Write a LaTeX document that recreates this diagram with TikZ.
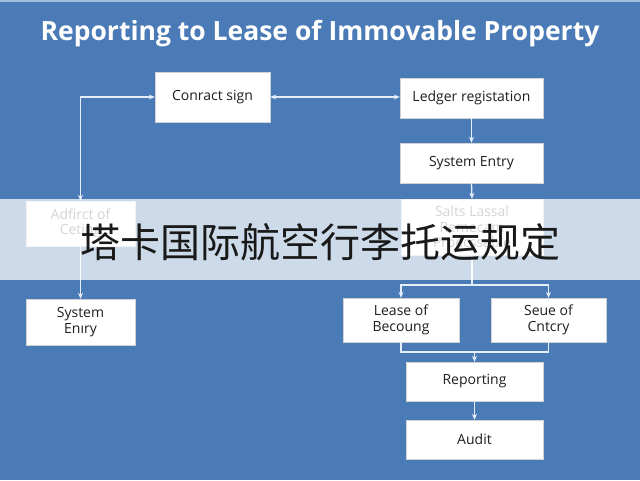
\documentclass[tikz,border=0pt]{standalone}
\usepackage{fontspec}
\setmainfont{Open Sans}
\newfontfamily\cjk{Noto Sans CJK SC}
\usetikzlibrary{arrows.meta,shadows}
\definecolor{bg}{HTML}{4A7BB7}
\definecolor{ln}{HTML}{E4EEF8}
\definecolor{bx}{HTML}{1E1E1E}
\tikzset{
  flowbox/.style={draw=gray!35, fill=white, text=bx, align=center, inner sep=1pt,
    font=\fontsize{14}{15.5}\selectfont,
    drop shadow={opacity=0.35, shadow xshift=1.2pt, shadow yshift=-1.2pt}},
  conn/.style={draw=ln, line width=1.3pt, -{Stealth[length=6pt,width=5pt]}},
  plain/.style={draw=ln, line width=1.3pt}
}
\begin{document}
\begin{tikzpicture}[x=1pt,y=-1pt]
\fill[bg] (0,0) rectangle (640,480);
\useasboundingbox (0,0) rectangle (640,480);
\fill[white,opacity=0.5] (0,0) rectangle (640,2);
\node[text=white, font=\fontsize{26.5}{30}\selectfont\bfseries] (title) at (320,34) {Reporting to Lease of Immovable Property};

\node[flowbox, minimum width=115pt, minimum height=50pt] (cs) at (212.5,97) {Conract sign};
\node[flowbox, minimum width=143pt, minimum height=40pt] (lr) at (471.5,98) {Ledger registation};
\node[flowbox, minimum width=143pt, minimum height=40pt] (se1) at (471.5,163) {System Entry};
\node[flowbox, minimum width=142pt, minimum height=56pt, text=gray!80!black] (sl) at (472,227) {Salts Lassal\\Remecam\\Proecssable};
\node[flowbox, minimum width=109pt, minimum height=45pt, text=gray!80!black] (ad) at (80.5,223.5) {Adfirct of\\Ceting};
\node[flowbox, minimum width=109pt, minimum height=46pt] (se2) at (80.5,322) {System\\Enıry};
\node[flowbox, minimum width=116pt, minimum height=44pt] (lb) at (401,320) {Lease of\\Becoung};
\node[flowbox, minimum width=115pt, minimum height=44pt] (sc) at (548.5,320) {Seue of\\Cntcry};
\node[flowbox, minimum width=137pt, minimum height=39pt] (rp) at (474.5,381.5) {Reporting};
\node[flowbox, minimum width=137pt, minimum height=39pt] (au) at (474.5,439.5) {Audit};

\coordinate (split) at (472,285);
\coordinate (join) at (474.5,352);

\draw[conn, {Stealth[length=6pt,width=5pt]}-{Stealth[length=6pt,width=5pt]}] (cs.west) -| (ad.north);
\draw[conn, {Stealth[length=6pt,width=5pt]}-{Stealth[length=6pt,width=5pt]}] (cs.east) -- (cs.east -| lr.west);
\draw[conn] (lr.south) -- (se1.north);
\draw[conn] (se1.south) -- (sl.north);
\draw[conn] (ad.south) -- (se2.north);
\draw[plain] (sl.south) -- (split);
\draw[conn] (split) -| (lb.north);
\draw[conn] (split) -| (sc.north);
\draw[plain] (lb.south) |- (join);
\draw[plain] (sc.south) |- (join);
\draw[conn] (join) -- (rp.north);
\draw[conn] (rp.south) -- (au.north);

\fill[white,opacity=0.72] (0,199) rectangle (640,280);
\node[text=black!90, font=\cjk\fontsize{40}{40}\selectfont] (cn) at (320,242) {塔卡国际航空行李托运规定};
\end{tikzpicture}
\end{document}
